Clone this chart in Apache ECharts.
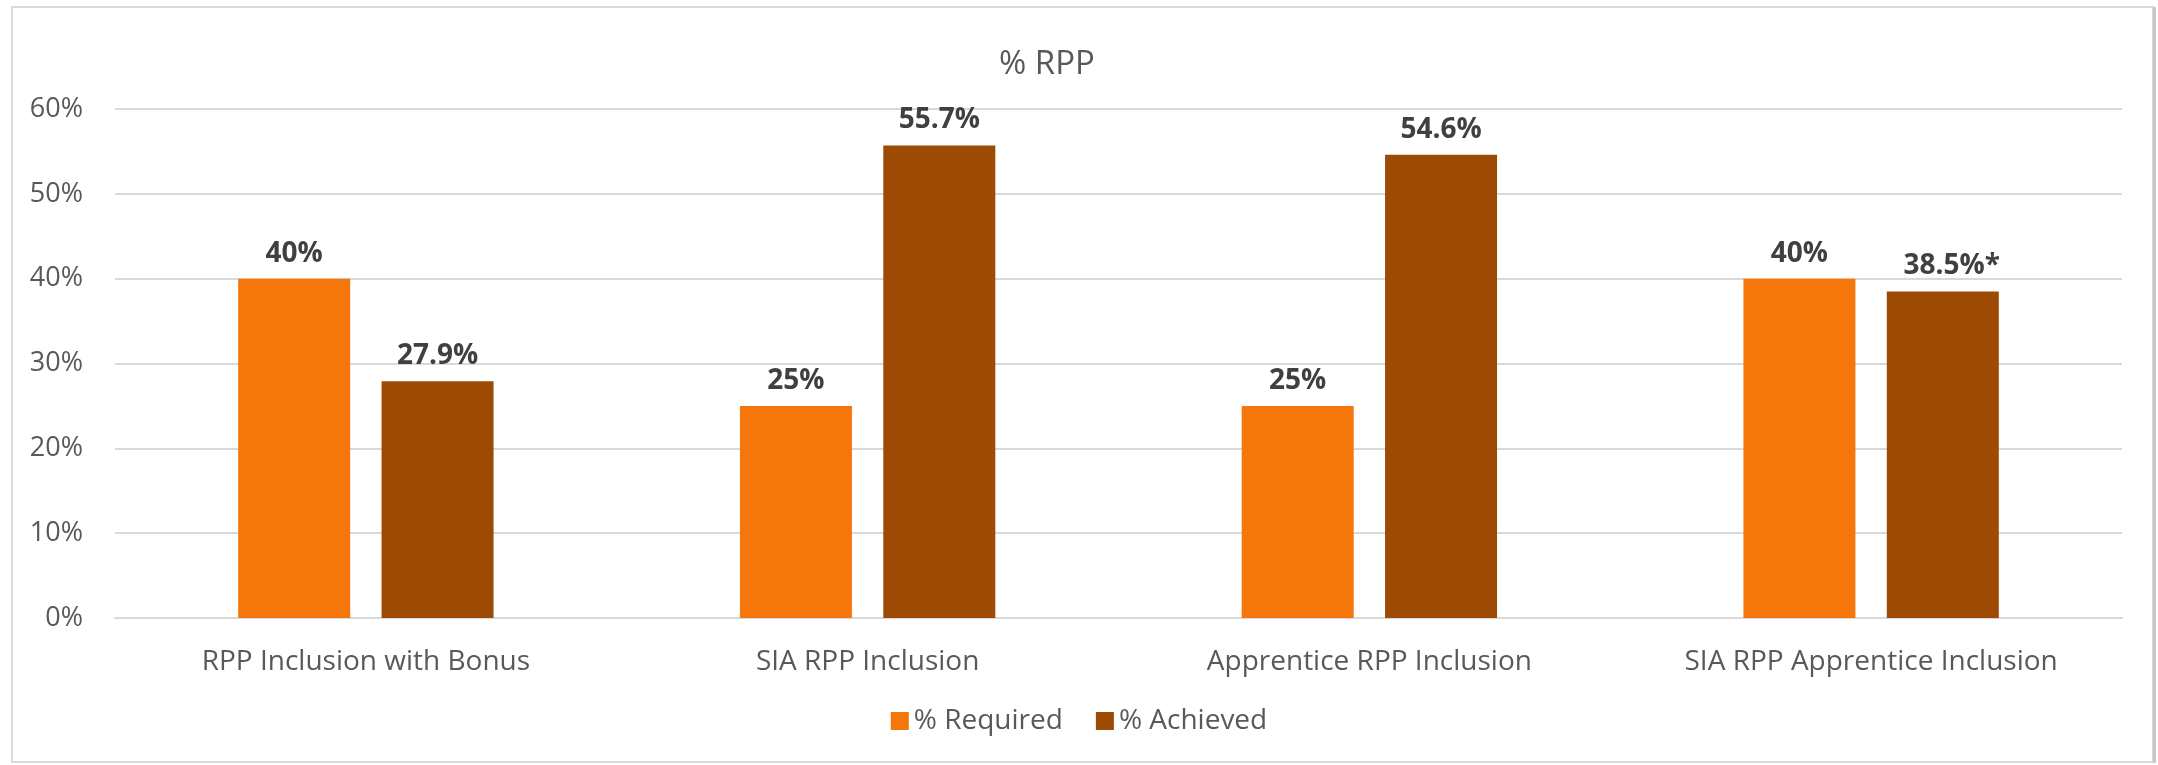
<!DOCTYPE html>
<html>
<head>
<meta charset="utf-8">
<script src="https://cdn.jsdelivr.net/npm/echarts@6/dist/echarts.min.js"></script>
<style>
  html, body { margin: 0; padding: 0; background: #fff; }
  #chart { width: 2158px; height: 765px; }
</style>
</head>
<body>
<div id="chart"></div>
<script>
// data
const categories = ['RPP Inclusion with Bonus', 'SIA RPP Inclusion', 'Apprentice RPP Inclusion', 'SIA RPP Apprentice Inclusion'];
const required = [40, 25, 25, 40];
const achieved = [27.9, 55.7, 54.6, 38.5];
const requiredLabels = ['40%', '25%', '25%', '40%'];
const achievedLabels = ['27.9%', '55.7%', '54.6%', '38.5%*'];
const yTicks = [0, 10, 20, 30, 40, 50, 60];

const chart = echarts.init(document.getElementById('chart'));
const font = '"Open Sans", sans-serif';

let labelStyle = {
    show: true,
    position: 'top',
    distance: 11,
    fontFamily: font,
    fontSize: 28,
    fontWeight: 'bold',
    color: '#404040'
};

let option = {
    animation: false,
    textStyle: { fontFamily: font },
    title: {
        text: '% RPP',
        left: 999,
        top: 48,
        padding: 0,
        textStyle: {
            fontFamily: font,
            fontSize: 33,
            fontWeight: 'normal',
            color: '#595959'
        }
    },
    legend: {
        bottom: 25,
        left: 'center',
        itemWidth: 18,
        itemHeight: 18,
        itemGap: 33,
        icon: 'rect',
        textStyle: {
            fontFamily: font,
            fontSize: 28,
            color: '#595959'
        },
        data: ['% Required', '% Achieved']
    },
    grid: {
        left: 115,
        right: 36,
        top: 109,
        bottom: 147
    },
    xAxis: {
        type: 'category',
        data: categories,
        axisTick: { show: false },
        axisLine: { lineStyle: { color: '#D9D9D9', width: 2 } },
        axisLabel: {
            margin: 30,
            fontFamily: font,
            fontSize: 28,
            color: '#595959'
        }
    },
    yAxis: {
        type: 'value',
        min: yTicks[0],
        max: yTicks[yTicks.length - 1],
        interval: 10,
        axisLine: { show: false },
        axisTick: { show: false },
        axisLabel: {
            margin: 32,
            fontFamily: font,
            fontSize: 27,
            color: '#595959',
            formatter: v => v + '%'
        },
        splitLine: { lineStyle: { color: '#D9D9D9', width: 2 } }
    },
    series: [
        {
            name: '% Required',
            type: 'bar',
            barWidth: 112,
            barGap: '28%',
            itemStyle: { color: '#F5760A' },
            label: Object.assign({}, labelStyle, {
                formatter: p => requiredLabels[p.dataIndex]
            }),
            data: required
        },
        {
            name: '% Achieved',
            type: 'bar',
            barWidth: 112,
            barGap: '28%',
            itemStyle: { color: '#9C4A04' },
            label: Object.assign({}, labelStyle, {
                formatter: p => achievedLabels[p.dataIndex]
            }),
            data: achieved.map((v, i) => i === 3 ? { value: v, label: { offset: [9, 0] } } : v)
        }
    ],
    graphic: [
        {
            type: 'rect',
            shape: { x: 12, y: 7, width: 2141, height: 755 },
            style: { fill: 'none', stroke: '#D9D9D9', lineWidth: 2 },
            silent: true
        },
        {
            type: 'rect',
            shape: { x: 2153, y: 7, width: 3, height: 756 },
            style: { fill: '#C8C8C8' },
            silent: true
        }
    ]
};

chart.setOption(option);
</script>
</body>
</html>
